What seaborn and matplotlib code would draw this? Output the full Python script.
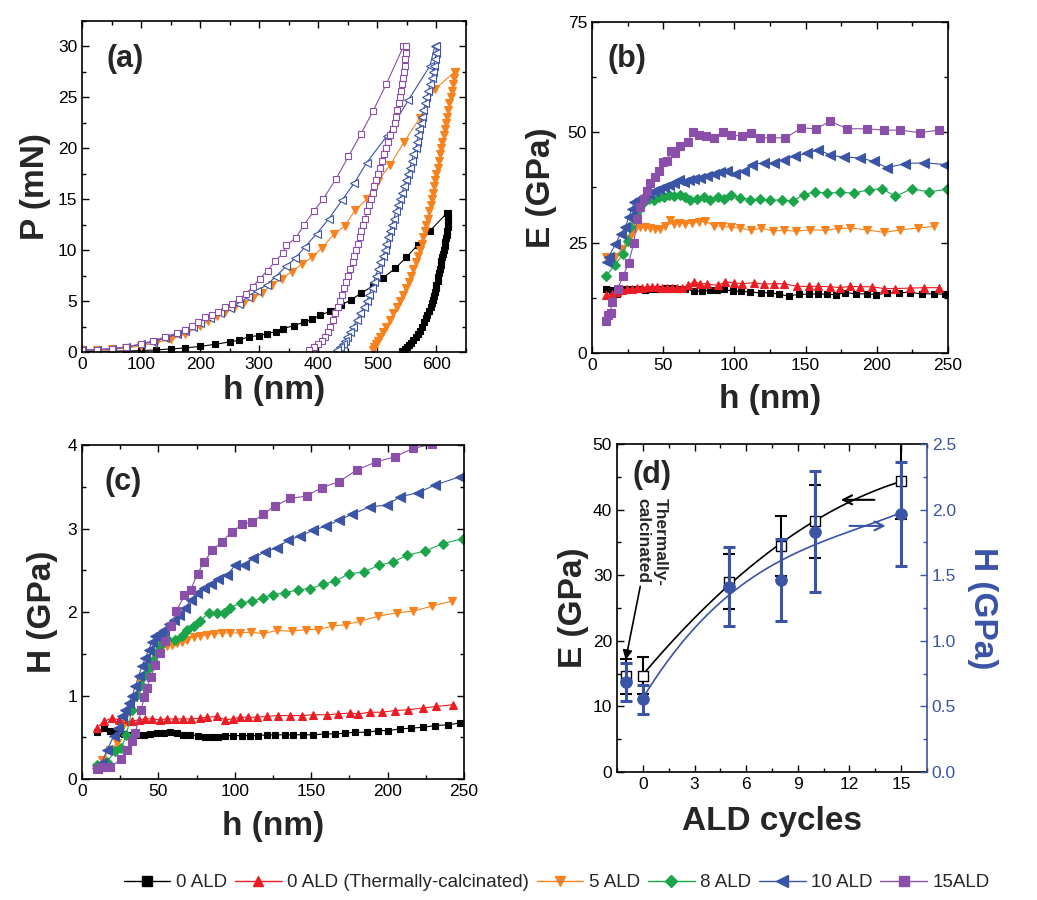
import numpy as np
import matplotlib
matplotlib.use("Agg")
import matplotlib.pyplot as plt
import seaborn as sns
from matplotlib.lines import Line2D
from matplotlib.ticker import MultipleLocator

# ---------------- data: panel (a) load-displacement ----------------
a_load_h_0 = [0, 25, 50, 75, 100, 125, 150, 175, 200, 225, 251, 265, 282, 299, 313, 328, 341, 359, 375, 389, 403, 420, 438, 455, 473, 493, 510, 530, 549, 568, 589, 617]
a_load_P_0 = [0.05, 0.06, 0.08, 0.1, 0.14, 0.2, 0.3, 0.4, 0.55, 0.75, 1.0, 1.15, 1.5, 1.6, 1.8, 2.0, 2.3, 2.6, 2.9, 3.2, 3.6, 4.0, 4.6, 5.1, 5.8, 6.5, 7.3, 8.2, 9.3, 10.5, 11.9, 13.6]
a_unl_P_0 = [13.6, 13.3, 13.0, 12.6, 12.3, 11.9, 11.5, 11.2, 10.8, 10.4, 10.0, 9.6, 9.3, 8.9, 8.5, 8.1, 7.8, 7.4, 7.0, 6.6, 6.3, 5.9, 5.5, 5.1, 4.8, 4.4, 4.0, 3.6, 3.3, 2.9, 2.5, 2.1, 1.8, 1.5, 1.2, 0.9, 0.7, 0.5, 0.3, 0.1]
a_unl_h_0 = [620, 620, 620, 620, 619, 618, 617, 616, 615, 614, 612, 611, 610, 608, 607, 606, 605, 603, 602, 600, 599, 597, 596, 594, 592, 590, 587, 584, 582, 579, 576, 572, 569, 565, 561, 557, 553, 550, 547, 542]

a_load_h_5 = [0, 25, 50, 75, 100, 125, 150, 175, 200, 214, 228, 242, 258, 273, 289, 305, 321, 338, 355, 372, 389, 406, 427, 445, 462, 482, 501, 522, 545, 572, 597, 631]
a_load_P_5 = [0.15, 0.17, 0.25, 0.4, 0.6, 0.9, 1.25, 1.75, 2.55, 3.05, 3.5, 3.9, 4.3, 4.75, 5.3, 5.8, 6.6, 7.2, 7.9, 8.6, 9.3, 10.2, 11.6, 12.4, 13.9, 15.0, 16.8, 18.4, 20.6, 23.0, 25.8, 27.5]
a_unl_P_5 = [27.5, 26.9, 26.3, 25.6, 25.0, 24.4, 23.8, 23.1, 22.5, 21.9, 21.3, 20.6, 20.0, 19.4, 18.8, 18.1, 17.5, 16.9, 16.3, 15.6, 15.0, 14.4, 13.8, 13.1, 12.5, 11.9, 11.3, 10.6, 10.0, 9.4, 8.8, 8.1, 7.5, 6.9, 6.3, 5.6, 5.0, 4.4, 3.8, 3.1, 2.5, 2.0, 1.5, 1.1, 0.8, 0.5, 0.2]
a_unl_h_5 = [631, 630, 628, 627, 625, 622, 620, 618, 616, 614, 612, 610, 608, 606, 604, 602, 600, 598, 596, 594, 592, 590, 587, 585, 582, 580, 577, 575, 572, 569, 565, 561, 557, 553, 548, 543, 538, 533, 527, 521, 515, 510, 505, 501, 498, 495, 493]

a_load_h_10 = [0, 25, 50, 75, 100, 120, 140, 160, 175, 188, 200, 217, 234, 251, 265, 281, 296, 313, 328, 345, 361, 377, 397, 418, 440, 461, 482, 516, 552, 589, 597]
a_load_P_10 = [0.2, 0.22, 0.32, 0.48, 0.75, 1.0, 1.35, 1.75, 2.1, 2.45, 2.85, 3.3, 3.8, 4.3, 4.75, 5.4, 6.0, 6.6, 7.4, 8.4, 9.2, 10.3, 11.6, 13.1, 14.9, 16.6, 18.6, 21.2, 24.7, 28.1, 30.0]
a_unl_P_10 = [30.0, 29.4, 28.8, 28.1, 27.5, 26.9, 26.3, 25.6, 25.0, 24.4, 23.8, 23.1, 22.5, 21.9, 21.3, 20.6, 20.0, 19.4, 18.8, 18.1, 17.5, 16.9, 16.3, 15.6, 15.0, 14.4, 13.8, 13.1, 12.5, 11.9, 11.3, 10.6, 10.0, 9.4, 8.8, 8.1, 7.5, 6.9, 6.3, 5.6, 5.0, 4.4, 3.8, 3.1, 2.5, 2.0, 1.5, 1.1, 0.8, 0.5, 0.2]
a_unl_h_10 = [600, 599, 598, 596, 594, 592, 589, 586, 583, 581, 578, 576, 573, 571, 569, 567, 565, 561, 558, 555, 552, 549, 545, 542, 538, 535, 531, 528, 524, 521, 518, 515, 513, 509, 505, 501, 497, 494, 490, 486, 482, 477, 471, 465, 459, 454, 449, 445, 441, 437, 432]

a_load_h_15 = [0, 25, 50, 75, 100, 120, 140, 160, 175, 186, 197, 208, 220, 231, 242, 254, 265, 277, 289, 301, 314, 327, 340, 346, 362, 376, 392, 408, 430, 451, 472, 493, 515, 544]
a_load_P_15 = [0.2, 0.22, 0.33, 0.5, 0.8, 1.1, 1.45, 1.85, 2.2, 2.6, 2.95, 3.4, 3.6, 3.9, 4.4, 4.75, 5.2, 5.7, 6.4, 7.2, 8.0, 8.9, 9.7, 10.5, 11.2, 12.5, 13.8, 15.0, 17.0, 19.2, 21.4, 23.7, 26.3, 30.0]
a_unl_P_15 = [30.0, 29.4, 28.8, 28.1, 27.5, 26.9, 26.3, 25.6, 25.0, 24.4, 23.8, 23.1, 22.5, 21.9, 21.3, 20.6, 20.0, 19.4, 18.8, 18.1, 17.5, 16.9, 16.3, 15.6, 15.0, 14.4, 13.8, 13.1, 12.5, 11.9, 11.3, 10.6, 10.0, 9.4, 8.8, 8.1, 7.5, 6.9, 6.3, 5.6, 5.0, 4.4, 3.8, 3.1, 2.5, 2.0, 1.5, 1.1, 0.8, 0.5, 0.2]
a_unl_h_15 = [548, 548, 547, 546, 545, 544, 542, 540, 538, 536, 534, 532, 530, 526, 522, 518, 514, 511, 508, 504, 501, 498, 495, 492, 489, 486, 483, 479, 476, 473, 470, 467, 464, 461, 458, 454, 451, 447, 444, 440, 437, 433, 429, 424, 420, 416, 411, 406, 400, 393, 385]

# ---------------- data: panel (b) modulus ----------------
b_h_0 = [10, 14, 17.6, 21, 24.6, 28, 32.8, 37.5, 42, 46.8, 51.5, 56.2, 60.9, 65.5, 71.4, 77.3, 83, 87.8, 93, 99, 104.6, 111.2, 118.7, 125.2, 131, 138, 145, 152.2, 159, 165, 171.6, 178, 185.6, 193, 199.7, 207, 215.4, 223.6, 231.8, 240, 248]
b_E_0 = [14.6, 14.2, 13.4, 14.6, 14.4, 14.6, 14.4, 14.2, 14.4, 14.6, 14.8, 14.8, 14.6, 14.6, 14.0, 14.0, 14.2, 14.2, 14.4, 14.0, 14.0, 13.8, 13.6, 13.7, 13.3, 12.9, 13.3, 13.3, 13.4, 13.3, 13.2, 13.7, 13.4, 13.4, 13.2, 13.6, 13.7, 13.7, 13.4, 13.4, 13.3]
b_h_0t = [10, 14, 17.6, 21, 24.6, 28, 31.6, 35, 38.6, 42, 45.6, 49.2, 52.7, 56.2, 59.7, 63.2, 67.2, 71.4, 76, 80.8, 88.3, 93.6, 99.5, 105.3, 113.5, 120.6, 127.6, 134.6, 144, 152.2, 159, 167.4, 174.4, 181.4, 188.5, 196.6, 204.8, 213, 223.6, 233, 243.5]
b_E_0t = [13.1, 13.4, 13.8, 14.2, 14.5, 14.6, 14.7, 14.8, 14.9, 15.0, 15.0, 14.8, 14.8, 14.8, 14.7, 14.8, 15.3, 16.1, 15.7, 15.7, 15.3, 16.1, 15.9, 15.7, 15.9, 15.6, 15.7, 15.7, 15.1, 15.1, 15.1, 15.0, 14.8, 15.1, 15.0, 15.0, 14.6, 14.6, 14.7, 14.8, 14.8]
b_h_5 = [10, 16.4, 21, 25.8, 28, 30.4, 34, 37.5, 41, 44.5, 48, 51.5, 54.5, 57.4, 61, 65.5, 70.2, 75, 79.6, 85.4, 91.3, 97.6, 104, 111.6, 118.9, 127, 134.6, 143.5, 153.3, 163.9, 172.5, 181.4, 193.1, 205.3, 216.5, 228.7, 240.4]
b_E_5 = [21.8, 21.8, 23.6, 25.9, 27.4, 28.2, 28.5, 28.5, 28.3, 28.0, 28.2, 28.7, 30.1, 29.2, 29.5, 29.2, 29.5, 29.7, 29.9, 28.8, 28.7, 28.5, 28.3, 27.8, 28.3, 27.6, 27.8, 27.6, 27.9, 27.8, 28.2, 28.3, 27.9, 27.3, 27.9, 28.3, 28.7]
b_h_8 = [9.8, 16, 21.8, 25.3, 27, 29.3, 30.9, 32.8, 35, 37.5, 39.8, 43.3, 46.8, 50.3, 53.8, 57.4, 61.6, 65.5, 69, 73.7, 78.4, 83, 88.3, 93, 97.6, 104.2, 111.2, 118.2, 125.2, 133.4, 141, 148.6, 156.8, 165, 174.4, 183.8, 194.3, 203.7, 213, 224.7, 236.4, 249.3]
b_E_8 = [17.4, 19.9, 22.4, 25.4, 28.5, 30.4, 31.6, 32.7, 33.8, 34.6, 34.8, 34.6, 35.3, 35.3, 35.7, 35.5, 35.9, 35.3, 34.6, 35.0, 35.3, 34.7, 35.3, 35.0, 35.7, 35.2, 34.7, 34.8, 34.6, 34.7, 34.4, 35.9, 36.5, 36.2, 36.4, 36.2, 37.0, 37.2, 35.5, 37.2, 36.5, 37.1]
b_h_10 = [10.5, 11.7, 16.4, 20, 23.4, 25.8, 28, 29.7, 32.8, 36.3, 39.8, 43.3, 46.8, 50.3, 53.8, 57.4, 60.9, 64.4, 67.9, 71.4, 76, 80.8, 85.4, 90, 94.8, 100.7, 106.5, 112.4, 120.6, 127.6, 134.6, 142.8, 151, 159, 167.4, 176.7, 188.5, 197.8, 207, 220, 233, 248]
b_E_10 = [20.6, 21.8, 24.6, 27.0, 28.5, 30.8, 32.7, 34.2, 35.0, 35.5, 36.1, 36.6, 37.1, 37.6, 38.1, 38.6, 39.1, 38.7, 39.1, 39.4, 39.7, 40.0, 40.5, 41.0, 41.2, 40.6, 41.2, 42.7, 43.1, 43.1, 43.8, 44.6, 45.2, 46.1, 44.8, 44.4, 44.2, 43.4, 42.0, 42.9, 43.1, 42.7]
b_h_15 = [10, 11.2, 13, 14, 18, 22, 25.8, 29.3, 31.6, 34, 36.3, 38.6, 41, 44, 46.8, 49.9, 52.7, 55.5, 58.5, 62, 67.2, 71, 75.4, 80, 85.4, 91.8, 97.6, 105.3, 111.7, 118.2, 126, 135.8, 147, 157, 167.4, 179, 193, 205, 216.5, 230, 243.5]
b_E_15 = [7.3, 8.5, 9.1, 11.6, 14.5, 17.5, 20.5, 24.9, 30.4, 33.0, 35.0, 36.7, 38.4, 39.9, 41.2, 43.3, 43.5, 45.7, 45.3, 46.9, 47.9, 50.1, 49.5, 49.1, 48.8, 50.1, 49.3, 49.2, 49.8, 48.7, 48.8, 48.7, 51.0, 50.8, 52.5, 50.8, 50.8, 50.5, 50.5, 49.9, 50.5]

# ---------------- data: panel (c) hardness ----------------
c_h_0 = [9.8, 14.2, 18.5, 22.9, 27.2, 31.6, 35.9, 40.3, 44.6, 49, 53.4, 57.7, 62.1, 66.4, 70.8, 76.2, 80.6, 85, 89.3, 93.7, 99.1, 104.5, 110, 115.4, 120.9, 126.3, 132.9, 138.3, 144.8, 151.4, 159, 165.5, 172.1, 178.6, 186.2, 193.8, 200.4, 208, 215.6, 223.2, 230.9, 239.6, 247.2]
c_H_0 = [0.56, 0.61, 0.57, 0.55, 0.54, 0.53, 0.53, 0.53, 0.54, 0.55, 0.55, 0.56, 0.55, 0.53, 0.53, 0.52, 0.50, 0.50, 0.50, 0.52, 0.52, 0.52, 0.52, 0.52, 0.53, 0.53, 0.53, 0.53, 0.53, 0.53, 0.54, 0.54, 0.55, 0.56, 0.56, 0.58, 0.58, 0.60, 0.61, 0.62, 0.64, 0.65, 0.67]
c_h_0t = [9.8, 14.2, 19.6, 24, 28.3, 32.7, 37, 41.4, 45.7, 50.7, 55.5, 61, 66.4, 71.2, 76.9, 82.1, 88.2, 93.6, 99.1, 103.4, 108.9, 114.3, 120.9, 128.5, 136.1, 143.7, 151.4, 160.1, 167.7, 175.3, 180.8, 188.4, 196, 204.7, 213.4, 223.2, 231.9, 242.8]
c_H_0t = [0.61, 0.69, 0.73, 0.71, 0.69, 0.69, 0.71, 0.72, 0.72, 0.71, 0.72, 0.72, 0.72, 0.72, 0.73, 0.74, 0.75, 0.71, 0.72, 0.74, 0.74, 0.74, 0.75, 0.76, 0.76, 0.76, 0.77, 0.77, 0.78, 0.79, 0.78, 0.80, 0.80, 0.82, 0.83, 0.85, 0.87, 0.89]
c_h_5 = [9.8, 13, 18.5, 22.9, 26.1, 30, 33.8, 38.1, 42.5, 46.8, 51.2, 55.5, 58.8, 62, 65.3, 69, 73, 77.3, 81.7, 86.5, 91.5, 96.9, 103.4, 110.4, 118.7, 127.4, 137.2, 146.6, 154.6, 163.3, 172.7, 181.9, 193.8, 205.8, 216.7, 228.7, 241.8]
c_H_5 = [0.15, 0.23, 0.35, 0.43, 0.61, 0.80, 0.97, 1.17, 1.35, 1.49, 1.55, 1.59, 1.61, 1.63, 1.64, 1.67, 1.70, 1.71, 1.73, 1.74, 1.75, 1.75, 1.75, 1.76, 1.74, 1.78, 1.77, 1.79, 1.79, 1.83, 1.85, 1.89, 1.95, 1.99, 2.01, 2.07, 2.13]
c_h_8 = [9.8, 16.3, 21.8, 25.5, 29, 32.7, 35.9, 38.5, 41.4, 44, 46.4, 48.6, 50.7, 52.9, 55.1, 61, 65.3, 69, 73.4, 77.3, 82.8, 88.2, 93, 96.9, 103.9, 111.5, 118.7, 125.2, 132.9, 141.6, 149.2, 157.5, 165.5, 174.9, 184.5, 194.3, 203.6, 212.8, 224.3, 236.3, 249.4]
c_H_8 = [0.17, 0.21, 0.33, 0.37, 0.53, 0.83, 1.01, 1.13, 1.25, 1.33, 1.41, 1.51, 1.59, 1.65, 1.69, 1.67, 1.71, 1.79, 1.83, 1.89, 1.99, 1.99, 1.99, 2.05, 2.11, 2.13, 2.17, 2.21, 2.23, 2.27, 2.28, 2.33, 2.37, 2.46, 2.48, 2.56, 2.60, 2.68, 2.73, 2.82, 2.88]
c_h_10 = [9.8, 13, 16.3, 20.7, 23.3, 26.1, 28.3, 30.5, 32.7, 34.8, 37, 39.2, 41.4, 43.6, 45.7, 47.9, 50.7, 53.4, 56.6, 59.9, 63.2, 67.5, 71.2, 75.1, 80, 84.3, 89.3, 94.7, 100.2, 106.3, 112.2, 119.8, 127.4, 135, 142.7, 151.4, 159.6, 168.4, 176.4, 188.4, 199.3, 208, 220, 230.9, 247.2]
c_H_10 = [0.13, 0.19, 0.35, 0.51, 0.61, 0.75, 0.83, 0.91, 0.99, 1.11, 1.23, 1.35, 1.45, 1.55, 1.64, 1.71, 1.75, 1.79, 1.86, 1.91, 1.97, 2.05, 2.15, 2.23, 2.29, 2.33, 2.39, 2.44, 2.56, 2.56, 2.65, 2.72, 2.77, 2.86, 2.91, 2.98, 3.03, 3.10, 3.17, 3.26, 3.28, 3.38, 3.43, 3.52, 3.62]
c_h_15 = [9.8, 13, 18.5, 25.5, 29.4, 32.7, 34.8, 38.8, 40.7, 42.5, 45, 48, 50.7, 54.5, 58.2, 61.6, 67, 71.2, 75.6, 80, 85.2, 91.5, 98, 105, 111.5, 118.3, 126.3, 136.1, 147, 156.8, 168, 179.7, 192.7, 204.7, 216.7, 229.1, 252]
c_H_15 = [0.12, 0.14, 0.14, 0.24, 0.35, 0.45, 0.55, 0.83, 0.98, 1.09, 1.22, 1.37, 1.51, 1.65, 1.83, 2.01, 2.20, 2.27, 2.46, 2.60, 2.74, 2.84, 2.96, 3.05, 3.08, 3.17, 3.27, 3.36, 3.39, 3.49, 3.56, 3.70, 3.80, 3.86, 3.96, 4.01, 4.08]

# ---------------- data: panel (d) ----------------
d_cycles = [-1, 0, 5, 8, 10, 15]
d_E = [14.6, 14.7, 29.0, 34.5, 38.2, 44.4]
d_E_err = [2.7, 2.8, 4.2, 4.6, 5.6, 5.8]
d_H = [0.685, 0.556, 1.414, 1.464, 1.832, 1.967]
d_H_err = [0.146, 0.11, 0.30, 0.31, 0.46, 0.40]

legend_labels = ["0 ALD", "0 ALD (Thermally-calcinated)", "5 ALD", "8 ALD", "10 ALD", "15ALD"]

# ---------------- styles ----------------
C_BLACK = "#000000"
C_RED = "#EC1C24"
C_ORANGE = "#F7821E"
C_GREEN = "#1BA54B"
C_BLUE = "#3A54A6"
C_PURPLE = "#8A4FA8"

sns.set_style("ticks")
plt.rcParams["font.family"] = ["Liberation Sans", "DejaVu Sans"]
plt.rcParams["axes.linewidth"] = 1.2

fig = plt.figure(figsize=(10.37, 9.0), dpi=100)
axA = fig.add_axes([0.0791, 0.6089, 0.3703, 0.3678])
axB = fig.add_axes([0.5709, 0.6078, 0.3433, 0.3678])
axC = fig.add_axes([0.0791, 0.1344, 0.3684, 0.3711])
axD = fig.add_axes([0.5950, 0.1422, 0.2989, 0.3644])

TICK_FS = 12.5


def draw(ax, x, y, color, marker, ms, mfc=None, lw=0.8, mew=0.8, z=2):
    sns.lineplot(x=x, y=y, ax=ax, sort=False, estimator=None, color=color,
                 marker=marker, markersize=ms,
                 markerfacecolor=(color if mfc is None else mfc),
                 markeredgecolor=color, markeredgewidth=mew,
                 linewidth=lw, legend=False, zorder=z)


def style(ax, xmaj, xmin, ymaj, ymin):
    ax.xaxis.set_major_locator(MultipleLocator(xmaj))
    ax.xaxis.set_minor_locator(MultipleLocator(xmin))
    ax.yaxis.set_major_locator(MultipleLocator(ymaj))
    ax.yaxis.set_minor_locator(MultipleLocator(ymin))
    ax.tick_params(which="both", direction="in", top=True, right=True,
                   labelsize=TICK_FS, width=1.0, colors="black")
    ax.tick_params(which="major", length=5)
    ax.tick_params(which="minor", length=3)
    for s in ax.spines.values():
        s.set_linewidth(1.2)
        s.set_color("black")


# ---- (a)
draw(axA, a_load_h_0, a_load_P_0, C_BLACK, "s", 4.5)
draw(axA, a_unl_h_0, a_unl_P_0, C_BLACK, "s", 5)
draw(axA, a_load_h_5, a_load_P_5, C_ORANGE, "v", 5.5)
draw(axA, a_unl_h_5, a_unl_P_5, C_ORANGE, "v", 6)
draw(axA, a_load_h_10, a_load_P_10, C_BLUE, "<", 5.5, mfc="white")
draw(axA, a_unl_h_10, a_unl_P_10, C_BLUE, "<", 5.5, mfc="white")
draw(axA, a_load_h_15, a_load_P_15, C_PURPLE, "s", 5, mfc="white")
draw(axA, a_unl_h_15, a_unl_P_15, C_PURPLE, "s", 5, mfc="white")
axA.set_xlim(0, 650)
axA.set_ylim(0, 32.5)
style(axA, 100, 50, 5, 2.5)
axA.set_xlabel("h (nm)", fontsize=24, fontweight="bold", labelpad=2)
axA.set_ylabel("P (mN)", fontsize=24, fontweight="bold", labelpad=5)
axA.text(0.112, 0.885, "(a)", transform=axA.transAxes, fontsize=22,
         fontweight="bold", ha="center", va="center")

series_style = [
    (C_BLACK, "s", 5),
    (C_RED, "^", 6),
    (C_ORANGE, "v", 6),
    (C_GREEN, "D", 5),
    (C_BLUE, "<", 6.5),
    (C_PURPLE, "s", 5.5),
]

# ---- (b)
b_x = [b_h_0, b_h_0t, b_h_5, b_h_8, b_h_10, b_h_15]
b_y = [b_E_0, b_E_0t, b_E_5, b_E_8, b_E_10, b_E_15]
for (c, m, ms), x, y in zip(series_style, b_x, b_y):
    draw(axB, x, y, c, m, ms)
axB.set_xlim(0, 250)
axB.set_ylim(0, 75)
style(axB, 50, 25, 25, 12.5)
axB.set_xlabel("h (nm)", fontsize=24, fontweight="bold", labelpad=8)
axB.set_ylabel("E (GPa)", fontsize=24, fontweight="bold", labelpad=8)
axB.text(0.098, 0.888, "(b)", transform=axB.transAxes, fontsize=22,
         fontweight="bold", ha="center", va="center")

# ---- (c)
c_x = [c_h_0, c_h_0t, c_h_5, c_h_8, c_h_10, c_h_15]
c_y = [c_H_0, c_H_0t, c_H_5, c_H_8, c_H_10, c_H_15]
for (c, m, ms), x, y in zip(series_style, c_x, c_y):
    draw(axC, x, y, c, m, ms)
axC.set_xlim(0, 250)
axC.set_ylim(0, 4)
style(axC, 50, 25, 1, 0.5)
axC.set_xlabel("h (nm)", fontsize=24, fontweight="bold", labelpad=9)
axC.set_ylabel("H (GPa)", fontsize=24, fontweight="bold", labelpad=7)
axC.text(0.107, 0.889, "(c)", transform=axC.transAxes, fontsize=22,
         fontweight="bold", ha="center", va="center")

# ---- (d)
axD2 = axD.twinx()
cyc = np.array(d_cycles, dtype=float)
E = np.array(d_E)
Hh = np.array(d_H)
fit_x = np.linspace(0, 15, 200)
E_fit = np.polyval(np.polyfit(cyc[1:], E[1:], 2), fit_x)
H_fit = np.polyval(np.polyfit(cyc[1:], Hh[1:], 3), fit_x)
sns.lineplot(x=fit_x, y=E_fit, ax=axD, color="black", linewidth=1.2, legend=False, zorder=2)
axD.errorbar(d_cycles, d_E, yerr=d_E_err, fmt="none", ecolor="black",
             elinewidth=1.5, capsize=4, capthick=1.5, zorder=3)
sns.scatterplot(x=d_cycles, y=d_E, ax=axD, marker="s", s=55, facecolor="white",
                edgecolor="black", linewidth=1.0, zorder=4, legend=False)

sns.lineplot(x=fit_x, y=H_fit, ax=axD2, color=C_BLUE, linewidth=1.2, legend=False, zorder=2)
axD2.errorbar(d_cycles, d_H, yerr=d_H_err, fmt="none", ecolor=C_BLUE,
              elinewidth=2.2, capsize=4, capthick=2.2, zorder=3)
sns.scatterplot(x=d_cycles, y=d_H, ax=axD2, marker="o", s=70, color=C_BLUE,
                edgecolor=C_BLUE, zorder=4, legend=False)

axD.set_xlim(-1.5, 16.5)
axD.set_ylim(0, 50)
axD2.set_ylim(0, 2.5)
axD.set_xticks([0, 3, 6, 9, 12, 15])
axD.xaxis.set_minor_locator(MultipleLocator(1.5))
axD.yaxis.set_major_locator(MultipleLocator(10))
axD.yaxis.set_minor_locator(MultipleLocator(5))
axD.tick_params(which="both", direction="in", top=True, right=False,
                labelsize=TICK_FS, width=1.0, colors="black")
axD.tick_params(which="major", length=5)
axD.tick_params(which="minor", length=3)
axD2.yaxis.set_major_locator(MultipleLocator(0.5))
axD2.yaxis.set_minor_locator(MultipleLocator(0.25))
axD2.tick_params(which="both", direction="in", labelsize=TICK_FS, width=1.0,
                 colors=C_BLUE)
axD2.tick_params(which="major", length=5)
axD2.tick_params(which="minor", length=3)
for s in ["left", "top", "bottom"]:
    axD.spines[s].set_linewidth(1.2)
    axD.spines[s].set_color("black")
    axD2.spines[s].set_visible(False)
axD.spines["right"].set_visible(False)
axD2.spines["right"].set_color(C_BLUE)
axD2.spines["right"].set_linewidth(1.2)

axD.set_xlabel("ALD cycles", fontsize=24, fontweight="bold", labelpad=10)
axD.set_ylabel("E (GPa)", fontsize=24, fontweight="bold", labelpad=3)
axD2.set_ylabel("H (GPa)", fontsize=24, fontweight="bold", color=C_BLUE,
                rotation=270, va="bottom", labelpad=8)
axD.text(0.113, 0.905, "(d)", transform=axD.transAxes, fontsize=22,
         fontweight="bold", ha="center", va="center")
axD.text(0.52, 35.1, "Thermally-\ncalcinated", rotation=270, ha="center",
         va="center", fontsize=12.5, fontweight="bold", multialignment="left")
axD.annotate("", xy=(-1, 17.1), xytext=(-0.15, 28.3),
             arrowprops=dict(arrowstyle="-|>", color="black", lw=1.2,
                             mutation_scale=14, shrinkA=0, shrinkB=0))
axD.annotate("", xy=(11.5, 41.5), xytext=(13.45, 41.5),
             arrowprops=dict(arrowstyle="->", color="black", lw=1.5,
                             mutation_scale=16, shrinkA=0, shrinkB=0))
axD2.annotate("", xy=(14.1, 1.876), xytext=(12.0, 1.876),
              arrowprops=dict(arrowstyle="->", color=C_BLUE, lw=1.5,
                              mutation_scale=16, shrinkA=0, shrinkB=0))

# ---- legend
handles = []
for (c, m, ms) in series_style:
    handles.append(Line2D([], [], color=c, alpha=1.0, linewidth=1.0, marker=m,
                          markersize=ms + 1.5, markerfacecolor=c,
                          markeredgecolor=c))
fig.legend(handles, legend_labels, loc="center", bbox_to_anchor=(0.537, 0.019),
           ncol=6, frameon=False, fontsize=13.5, handlelength=2.5,
           handletextpad=0.3, columnspacing=0.4)

fig.savefig("out.png", dpi=100, facecolor="white")
